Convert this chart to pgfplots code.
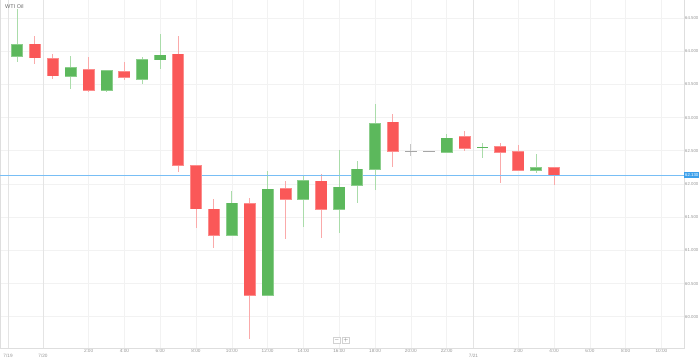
\documentclass[border=0pt]{standalone}
\usepackage{pgfplots}
\pgfplotsset{compat=1.18}
\usepackage{pgfplotstable}
\usepackage{fontspec}
\setmainfont{Liberation Sans}
\definecolor{cgreen}{RGB}{92,184,92}
\definecolor{cgreenl}{RGB}{140,206,140}
\definecolor{cred}{RGB}{250,88,88}
\definecolor{credl}{RGB}{252,140,140}
\definecolor{wgreen}{RGB}{170,220,170}
\definecolor{wred}{RGB}{250,170,170}
\definecolor{pricecol}{RGB}{120,190,245}
\definecolor{pbox}{RGB}{60,160,235}
\definecolor{gridc}{RGB}{242,242,242}
\definecolor{gridd}{RGB}{228,228,228}
\definecolor{borderc}{RGB}{222,222,222}
\definecolor{lbl}{RGB}{150,150,150}

\pgfplotstableread{
t o h l c
0 63.92 64.64 63.83 64.09
3 63.62 63.92 63.43 63.75
5 63.41 63.71 63.39 63.70
7 63.58 63.91 63.50 63.87
8 63.87 64.26 63.73 63.94
12 61.23 61.89 61.23 61.71
14 60.33 62.19 60.33 61.92
16 61.77 62.12 61.36 62.05
18 61.62 62.51 61.26 61.95
19 61.98 62.35 61.72 62.22
20 62.22 63.21 61.91 62.91
24 62.48 62.76 62.48 62.69
29 62.21 62.45 62.17 62.24
}\greendata

\pgfplotstableread{
t o h l c
1 64.10 64.23 63.80 63.90
2 63.89 63.96 63.58 63.63
4 63.72 63.92 63.38 63.41
6 63.69 63.83 63.57 63.61
9 63.95 64.23 62.18 62.28
10 62.27 62.27 61.33 61.63
11 61.62 61.77 61.04 61.23
13 61.70 61.79 59.66 60.33
15 61.93 62.05 61.17 61.77
17 62.04 62.15 61.18 61.62
21 62.93 63.05 62.25 62.49
25 62.71 62.79 62.50 62.54
27 62.56 62.61 62.01 62.48
28 62.48 62.59 62.20 62.21
30 62.24 62.24 61.99 62.14
}\reddata

\pgfplotstableread{
t o h l c
26 62.55 62.61 62.39 62.55
}\greendoji

\pgfplotstableread{
t o h l c
22 62.49 62.61 62.42 62.49
23 62.49 62.49 62.49 62.49
}\graydoji

% current price: centre of the x range, half-width of the x range
\pgfplotstableread{
t p w
18.155 62.13 19.105
}\priceline

\pgfplotsset{
  wick/.style={draw=none, mark=none, error bars/.cd, y dir=both, y explicit, error mark=none,
    error bar style={draw=#1, line width=1pt}},
  body/.style 2 args={draw=none, mark=none, error bars/.cd, y dir=both, y explicit, error mark=none,
    error bar style={draw=#1, line width=#2}},
  doji/.style={draw=none, mark=none, error bars/.cd, x dir=both, x explicit, error mark=none,
    error bar style={draw=#1, line width=1.4pt}},
}

\begin{document}
\begin{tikzpicture}
\begin{axis}[
  name=ax,
  scale only axis,
  width=684pt, height=348pt,
  xmin=-0.95, xmax=37.26,
  ymin=59.53, ymax=64.77,
  axis line style={draw=none},
  major tick length=0pt,
  grid=major,
  grid style={gridc, line width=0.6pt},
  xtick={4,6,8,10,12,14,16,18,20,22,24,28,30,32,34,36},
  xticklabels={2:00,4:00,6:00,8:00,10:00,12:00,14:00,16:00,18:00,20:00,22:00,2:00,4:00,6:00,8:00,10:00},
  extra x ticks={-0.5,1.45,25.5},
  extra x tick labels={7/19,7/20,7/21},
  extra x tick style={grid style={gridd, line width=0.6pt}, xticklabel style={yshift=-5pt}},
  xticklabel style={font=\fontsize{4.7}{5}\selectfont, text=lbl, inner sep=1pt, yshift=0pt},
  ytick={60,60.5,...,64.5},
  yticklabel pos=right,
  yticklabel style={font=\fontsize{4.3}{5}\selectfont, text=lbl, inner sep=1pt, anchor=west, xshift=0pt,
    /pgf/number format/.cd, fixed, fixed zerofill, precision=3, 1000 sep={}},
  /pgf/number format/assume math mode=true,
  clip mode=individual,
]
% border
\draw[borderc, line width=0.8pt] (rel axis cs:0,1) -- (rel axis cs:0,0) -- (rel axis cs:1,0) -- (rel axis cs:1,1);

% wicks
\addplot[wick=wgreen]
  table[x=t, y expr={(\thisrow{h}+\thisrow{l})/2}, y error expr={(\thisrow{h}-\thisrow{l})/2}] {\greendata};
\addplot[wick=wred]
  table[x=t, y expr={(\thisrow{h}+\thisrow{l})/2}, y error expr={(\thisrow{h}-\thisrow{l})/2}] {\reddata};
\addplot[wick=wgreen]
  table[x=t, y expr={(\thisrow{h}+\thisrow{l})/2}, y error expr={(\thisrow{h}-\thisrow{l})/2}] {\greendoji};
\addplot[wick=gray!45]
  table[x=t, y expr={(\thisrow{h}+\thisrow{l})/2}, y error expr={(\thisrow{h}-\thisrow{l})/2}] {\graydoji};

% price line
\addplot[draw=none, mark=none, error bars/.cd, x dir=both, x explicit, error mark=none,
    error bar style={draw=pricecol, line width=1.1pt}]
  table[x=t, y=p, x error=w] {\priceline};

% bodies (outline then fill)
\addplot[body={cgreenl}{12pt}]
  table[x=t, y expr={(\thisrow{o}+\thisrow{c})/2}, y error expr={abs(\thisrow{c}-\thisrow{o})/2+0.01}] {\greendata};
\addplot[body={cgreen}{10.6pt}]
  table[x=t, y expr={(\thisrow{o}+\thisrow{c})/2}, y error expr={abs(\thisrow{c}-\thisrow{o})/2}] {\greendata};
\addplot[body={credl}{12pt}]
  table[x=t, y expr={(\thisrow{o}+\thisrow{c})/2}, y error expr={abs(\thisrow{c}-\thisrow{o})/2+0.01}] {\reddata};
\addplot[body={cred}{10.6pt}]
  table[x=t, y expr={(\thisrow{o}+\thisrow{c})/2}, y error expr={abs(\thisrow{c}-\thisrow{o})/2}] {\reddata};

% doji bodies
\addplot[doji=cgreen] table[x=t, y=c, x error expr={0.33}] {\greendoji};
\addplot[doji=gray!70] table[x=t, y=c, x error expr={0.33}] {\graydoji};

% title
\node[anchor=north west, font=\fontsize{5.5}{6}\selectfont, text=gray!80!black, inner sep=0pt]
  at ([xshift=5pt,yshift=-4pt]rel axis cs:0,1) {WTI Oil};

% zoom buttons
\node[draw=gray!35, fill=white, minimum width=7pt, minimum height=6pt, inner sep=0pt,
  font=\fontsize{5}{5}\selectfont, text=gray!70!black] at (rel axis cs:0.4925,0.023) {$-$};
\node[draw=gray!35, fill=white, minimum width=7pt, minimum height=6pt, inner sep=0pt,
  font=\fontsize{5}{5}\selectfont, text=gray!70!black] at (rel axis cs:0.5057,0.023) {$+$};

% price label
\node[fill=pbox, text=white, anchor=west, inner sep=1pt, font=\fontsize{4.3}{5}\selectfont, minimum height=6pt]
  at ({rel axis cs:1,0} |- {axis cs:0,62.13}) {62.130};
\end{axis}
\pgfresetboundingbox
\path (ax.south west) ++(0,-15pt) rectangle ([xshift=15pt]ax.north east);
\end{tikzpicture}
\end{document}
